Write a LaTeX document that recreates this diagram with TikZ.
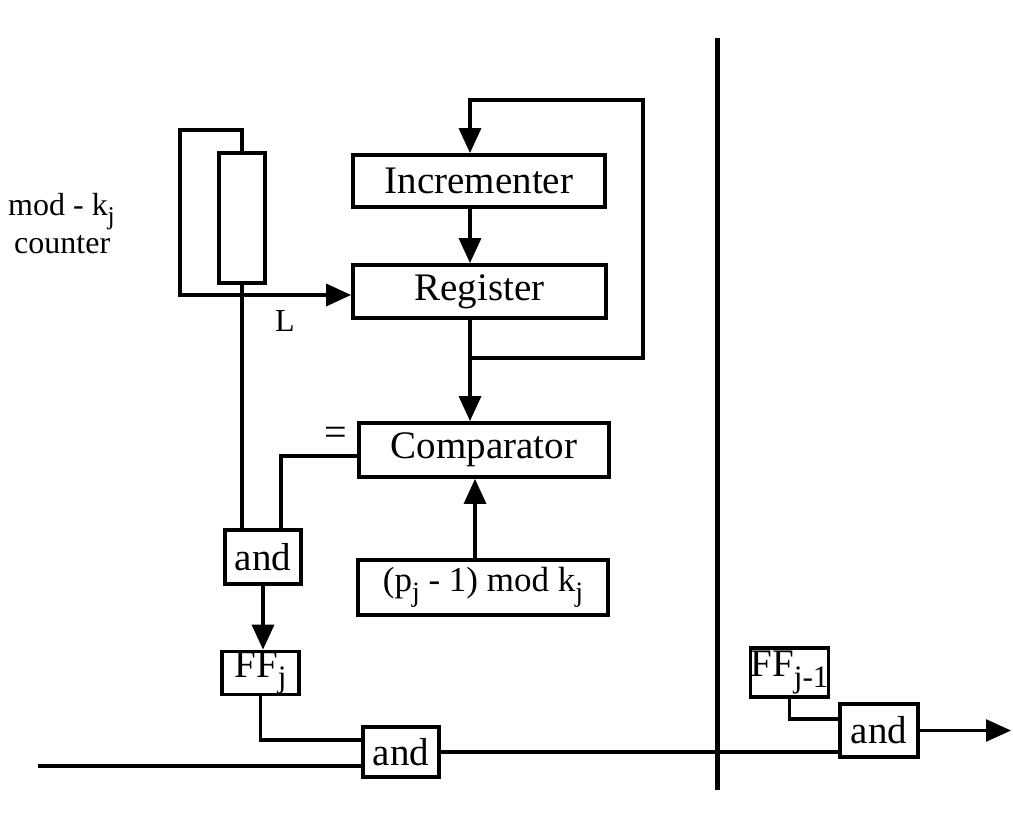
\documentclass[tikz,border=0pt]{standalone}
\usepackage{fontspec}
\setmainfont{Liberation Serif}
\usetikzlibrary{arrows.meta}
\newcommand{\sbs}[1]{\raisebox{-0.6ex}{\scalebox{0.8}{#1}}}
\begin{document}
\begin{tikzpicture}[x=1pt,y=-1pt,
  box/.style={draw,line width=3.8pt,inner sep=0pt,font=\fontsize{39}{46}\selectfont},
  wire/.style={line width=3.4pt},
  arr/.style={wire,-{Triangle[length=25pt,width=22pt]}},
  lbl/.style={inner sep=0pt,font=\fontsize{32}{38}\selectfont}]
\useasboundingbox (0,0) rectangle (1013,813);
% blocks
\node[box,minimum width=252pt,minimum height=52pt] (inc) at (479,181) {Incrementer};
\node[box,minimum width=253pt,minimum height=53pt] (reg) at (479.5,291.5) {Register};
\node[box,minimum width=250pt,minimum height=54pt] (comp) at (484,450) {Comparator};
\node[box,minimum width=250pt,minimum height=55pt,font=\fontsize{35}{42}\selectfont] (pmod) at (483,587.5) {(p\sbs{j} - 1) mod k\sbs{j}};
\node[box,minimum width=76pt,minimum height=54pt] (and1) at (263,557) {and};
\node[box,minimum width=77pt,minimum height=40pt] (ffj) at (260.5,673) {FF\sbs{j}};
\node[box,minimum width=76pt,minimum height=50pt] (and2) at (401,752) {and};
\node[box,minimum width=77pt,minimum height=49pt] (ffj1) at (789.5,672.5) {FF\sbs{j-1}};
\node[box,minimum width=78pt,minimum height=53pt] (and3) at (879,730.5) {and};
\node[box,minimum width=46pt,minimum height=130pt] (cnt) at (242,218) {};
% labels
\node[lbl,anchor=west] (modk) at (8,212) {mod - k\sbs{j}};
\node[lbl,anchor=west] (ctr) at (14,245) {counter};
\node[lbl] (L) at (285,321) {L};
\node[lbl,font=\fontsize{40}{46}\selectfont] (eq) at (336,436) {=};
% coordinates
\coordinate (lt) at (180,130);
\coordinate (lb) at (180,295);
\coordinate (cx) at (470,0);
\coordinate (cx2) at (475,0);
\coordinate (j1) at (470,358);
\coordinate (fr) at (643,358);
\coordinate (ft) at (643,100);
\coordinate (fl) at (470,100);
\coordinate (a1r) at (281,0);
\coordinate (vt) at (717,38);
\coordinate (vb) at (717,790);
\coordinate (lin) at (38,766);
\coordinate (out) at (1011,733);
% counter loop
\draw[arr] (cnt.north) -- (cnt.north |- lt) -- (lt) -- (lb) -- (reg.west |- lb);
\draw[wire] (cnt.south) -- (cnt.south |- and1.north);
% incrementer/register
\draw[arr] (inc.south -| cx) -- (reg.north -| cx);
\draw[arr] (reg.south -| cx) -- (comp.north -| cx);
\draw[arr] (j1) -- (fr) -- (ft) -- (fl) -- (inc.north -| cx);
% comparator
\draw[wire] (comp.west |- 0,456) -| (and1.north -| a1r);
\draw[arr] (pmod.north -| cx2) -- (comp.south -| cx2);
% and / FF chain
\draw[arr] (and1.south) -- (and1.south |- ffj.north);
\draw[wire] (ffj.south) |- ([yshift=12pt]and2.west);
\draw[wire] (lin) -- ([yshift=-14pt]and2.west);
\draw[wire] (and2.east) -- (and2.east -| and3.west);
\draw[wire] (ffj1.south) |- ([yshift=11.5pt]and3.west);
\draw[wire,line width=2.6pt,-{Triangle[length=25pt,width=22pt]}] (and3.east) -- (and3.east -| out);
% separator
\draw[line width=5pt] (vt) -- (vb);
\end{tikzpicture}
\end{document}
